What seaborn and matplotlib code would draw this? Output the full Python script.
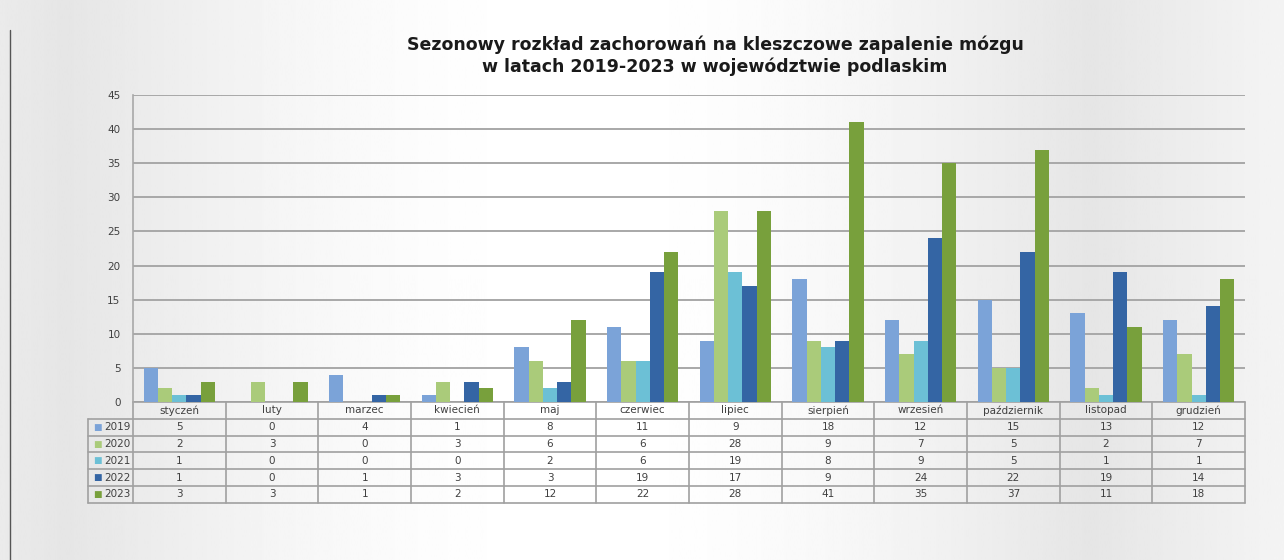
import numpy as np
import pandas as pd
import seaborn as sns
import matplotlib.pyplot as plt

months = ["styczeń", "luty", "marzec", "kwiecień", "maj", "czerwiec", "lipiec",
          "sierpień", "wrzesień", "październik", "listopad", "grudzień"]
years = ["2019", "2020", "2021", "2022", "2023"]
y2019 = [5, 0, 4, 1, 8, 11, 9, 18, 12, 15, 13, 12]
y2020 = [2, 3, 0, 3, 6, 6, 28, 9, 7, 5, 2, 7]
y2021 = [1, 0, 0, 0, 2, 6, 19, 8, 9, 5, 1, 1]
y2022 = [1, 0, 1, 3, 3, 19, 17, 9, 24, 22, 19, 14]
y2023 = [3, 3, 1, 2, 12, 22, 28, 41, 35, 37, 11, 18]
colors = ["#7BA3D8", "#AACB7A", "#6CC0D6", "#3465A4", "#78A03C"]

series = [y2019, y2020, y2021, y2022, y2023]
df = pd.DataFrame({
    "month": months * len(years),
    "year": np.repeat(years, len(months)),
    "cases": np.concatenate(series),
})

sns.set_theme(style="white")
plt.rcParams["font.family"] = ["DejaVu Sans"]

fig = plt.figure(figsize=(12.84, 5.6), dpi=100)

# gray/white vertical banding of the original background
bg = fig.add_axes([0, 0, 1, 1], zorder=-10)
xs = np.linspace(0, 1, 600)
shade = (0.90 + 0.10 * np.clip(np.abs(np.sin((xs - 0.05) * np.pi * 1.25)), 0, 1))
bg.imshow(shade[None, :], cmap="gray", vmin=0, vmax=1, aspect="auto", extent=[0, 1, 0, 1])
bg.plot([10 / 1284, 10 / 1284], [0, 1 - 30 / 560], color="#555555", lw=1)
bg.set_xlim(0, 1)
bg.set_ylim(0, 1)
bg.axis("off")

ax = fig.add_axes([133 / 1284, 158 / 560, 1112 / 1284, 307 / 560])
ax.set_facecolor("none")
sns.barplot(data=df, x="month", y="cases", hue="year", palette=colors, saturation=1,
            width=0.77, linewidth=0, legend=False, ax=ax, zorder=3)
ax.set_ylim(0, 45)
ax.set_xlim(-0.5, 11.5)
ax.set_yticks(range(0, 46, 5))
ax.yaxis.grid(True, color="#A8A8A8", lw=1.4, zorder=0)
ax.set_axisbelow(True)
ax.tick_params(axis="y", length=0, pad=9, labelsize=7.5, labelcolor="#404040")
ax.set_xticks([])
ax.set_xlabel("")
ax.set_ylabel("")
for s in ["top", "right", "bottom"]:
    ax.spines[s].set_visible(False)
ax.spines["left"].set_color("#A8A8A8")
ax.spines["left"].set_linewidth(1.2)

fig.text(715 / 1284, 1 - 45 / 560, "Sezonowy rozkład zachorowań na kleszczowe zapalenie mózgu",
         ha="center", va="center", fontsize=12.5, fontweight="bold", color="#1A1A1A")
fig.text(715 / 1284, 1 - 67 / 560, "w latach 2019-2023 w województwie podlaskim",
         ha="center", va="center", fontsize=12.5, fontweight="bold", color="#1A1A1A")

# data table under the chart
tr = ax.get_xaxis_transform()
h = 16.8 / 307
lab_left = -0.5 - 45 / (1112 / 12)
lc = "#A0A0A0"
ax.plot([-0.5, 11.5], [0, 0], color=lc, lw=1.2, transform=tr, clip_on=False)
for k in range(1, 7):
    ax.plot([lab_left, 11.5], [-k * h, -k * h], color=lc, lw=1.2, transform=tr, clip_on=False)
ax.plot([lab_left, lab_left], [-h, -6 * h], color=lc, lw=1.2, transform=tr, clip_on=False)
for xb in np.arange(-0.5, 12, 1):
    ax.plot([xb, xb], [0, -6 * h], color=lc, lw=1.2, transform=tr, clip_on=False)
for i, m in enumerate(months):
    ax.text(i, -0.5 * h, m, ha="center", va="center", fontsize=7.5, color="#404040",
            transform=tr, clip_on=False)
for r, (yr, vals, c) in enumerate(zip(years, series, colors)):
    yc = -(r + 1.5) * h
    ax.text(lab_left + 0.06, yc, "■", ha="left", va="center", fontsize=6.5, color=c,
            transform=tr, clip_on=False)
    ax.text(-0.53, yc, yr, ha="right", va="center", fontsize=7.5, color="#404040",
            transform=tr, clip_on=False)
    for i, v in enumerate(vals):
        ax.text(i, yc, str(v), ha="center", va="center", fontsize=7.5, color="#404040",
                transform=tr, clip_on=False)

fig.savefig("out.png", dpi=100)
